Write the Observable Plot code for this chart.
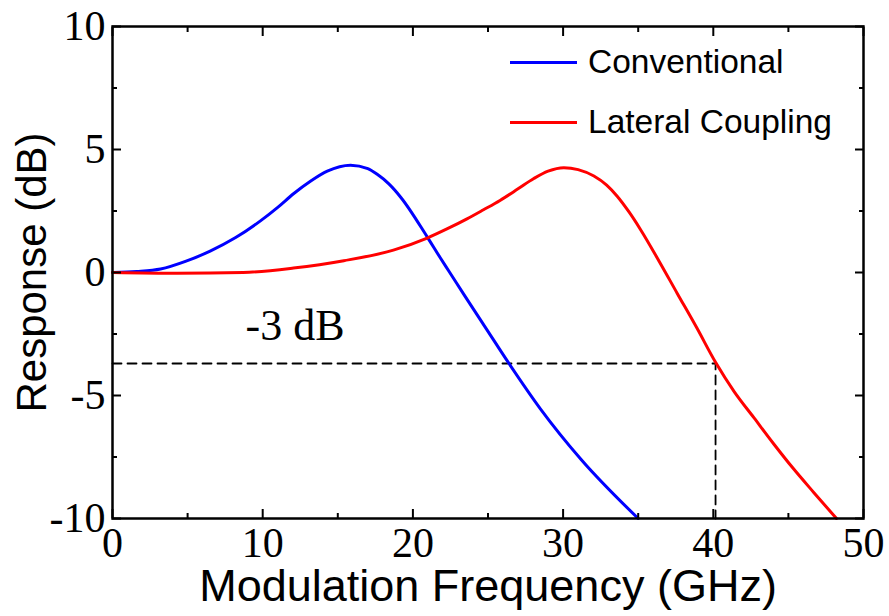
<!DOCTYPE html>
<html>
<head>
<meta charset="utf-8">
<script src="https://cdn.jsdelivr.net/npm/d3@7"></script>
<script src="https://cdn.jsdelivr.net/npm/@observablehq/plot@0.6"></script>
<style>
  body { margin: 0; background: #fff; }
  #wrap { position: relative; width: 889px; height: 616px; background: #fff; }
  .leg { position: absolute; left: 510px; display: flex; align-items: center; font-family: "Liberation Sans", Arial, sans-serif; font-size: 33.5px; color: #000; line-height: 1; white-space: nowrap; }
  .leg .sw { display: inline-block; width: 67px; height: 3px; margin-right: 11px; }
</style>
</head>
<body>
<div id="wrap"></div>
<script>
// ---- data ----
const seriesNames = ["Conventional", "Lateral Coupling"];

const conventionalFreq = [0, 1.6, 3.2, 4.9, 6.5, 8.2, 9.85, 11.0, 12.05, 13.2, 14.3, 15.85, 17.0, 17.6, 18.4, 19.2, 20.95, 21.8, 22.4, 23.4, 24.9, 26.4, 28.5, 31.2, 35.0];
const conventionalDb   = [0, 0.04, 0.14, 0.46, 0.87, 1.42, 2.1, 2.65, 3.2, 3.72, 4.12, 4.36, 4.22, 4.0, 3.6, 3.05, 1.45, 0.62, 0.05, -0.9, -2.3, -3.7, -5.55, -7.6, -10];

const lateralFreq = [0, 4.3, 8.7, 12.05, 15.4, 18.7, 20.95, 22.3, 23.6, 24.7, 25.8, 27.0, 28.05, 29.0, 30.05, 31.0, 32.05, 32.9, 33.6, 34.4, 35.15, 36.4, 37.6, 38.9, 40.15, 41.4, 42.7, 44.0, 45.3, 46.7, 48.2];
const lateralDb   = [0, -0.03, 0.0, 0.18, 0.48, 0.91, 1.4, 1.78, 2.18, 2.55, 2.93, 3.4, 3.82, 4.12, 4.26, 4.18, 3.92, 3.55, 3.1, 2.45, 1.75, 0.45, -0.85, -2.25, -3.65, -4.85, -5.9, -6.95, -7.95, -8.95, -10];

const cutoffFreq = [0, 40.15, 40.15];
const cutoffDb   = [-3.7, -3.7, -10];

const xTicks = [0, 10, 20, 30, 40, 50];
const xMinorTicks = [5, 15, 25, 35, 45];
const yTicks = [-10, -5, 0, 5, 10];
const yMinorTicks = [-7.5, -2.5, 2.5, 7.5];

const annotText = ["-3 dB"];
const annotFreq = [12.15];
const annotDb = [-2.17];

const xTitle = "Modulation Frequency (GHz)";
const yTitle = "Response (dB)";

// ---- build tables ----
const rows = [
  ...conventionalFreq.map((f, i) => ({series: seriesNames[0], f, db: conventionalDb[i]})),
  ...lateralFreq.map((f, i) => ({series: seriesNames[1], f, db: lateralDb[i]}))
];
const cutoff = cutoffFreq.map((f, i) => ({f, db: cutoffDb[i]}));
const annot = annotText.map((t, i) => ({t, f: annotFreq[i], db: annotDb[i]}));

const colors = ["#0000ff", "#ff0000"];
const serif = "'Liberation Serif', 'Times New Roman', serif";
const sans = "'Liberation Sans', Arial, sans-serif";
const fmt = d => String(d); // plain hyphen-minus, as in the reference

const tickOpts = {fill: "none", stroke: "black", strokeWidth: 2, label: null};

const chart = Plot.plot({
  width: 889,
  height: 616,
  marginLeft: 112,
  marginRight: 26,
  marginTop: 26,
  marginBottom: 98,
  style: {background: "white", color: "black", overflow: "visible"},
  x: {domain: [0, 50], label: null},
  y: {domain: [-10, 10], label: null},
  color: {domain: seriesNames, range: colors},
  marks: [
    Plot.line(cutoff, {x: "f", y: "db", stroke: "black", strokeWidth: 1.8, strokeDasharray: "9,6"}),
    Plot.line(rows, {x: "f", y: "db", z: "series", stroke: "series", strokeWidth: 3, curve: "monotone-x"}),
    Plot.text(annot, {x: "f", y: "db", text: "t", fontSize: 44, fontFamily: serif, fill: "black"}),
    Plot.frame({stroke: "black", strokeWidth: 2.5}),
    // tick labels
    Plot.axisX(xTicks, {tickSize: 0, tickPadding: 9, fontSize: 42, fontFamily: serif, label: null, fill: "black", tickFormat: fmt}),
    Plot.axisY(yTicks, {tickSize: 0, tickPadding: 7, fontSize: 42, fontFamily: serif, label: null, fill: "black", tickFormat: fmt}),
    // inward ticks on all four sides
    Plot.axisX(xTicks, {...tickOpts, anchor: "bottom", tickSize: -9}),
    Plot.axisX(xMinorTicks, {...tickOpts, anchor: "bottom", tickSize: -5}),
    Plot.axisX(xTicks, {...tickOpts, anchor: "top", tickSize: -9}),
    Plot.axisX(xMinorTicks, {...tickOpts, anchor: "top", tickSize: -5}),
    Plot.axisY(yTicks, {...tickOpts, anchor: "left", tickSize: -9}),
    Plot.axisY(yMinorTicks, {...tickOpts, anchor: "left", tickSize: -5}),
    Plot.axisY(yTicks, {...tickOpts, anchor: "right", tickSize: -9}),
    Plot.axisY(yMinorTicks, {...tickOpts, anchor: "right", tickSize: -5}),
    // axis titles
    Plot.text([xTitle], {frameAnchor: "bottom", dy: 82, fontSize: 45, fontFamily: sans, fill: "black", textAnchor: "middle", text: d => d}),
    Plot.text([yTitle], {frameAnchor: "left", dx: -80, rotate: -90, fontSize: 42, fontFamily: sans, fill: "black", textAnchor: "middle", text: d => d})
  ]
});

const wrap = document.getElementById("wrap");
wrap.appendChild(chart);

// legend (HTML overlay inside the plot frame)
const legendTops = [44, 104];
seriesNames.forEach((name, i) => {
  const div = document.createElement("div");
  div.className = "leg";
  div.style.top = legendTops[i] + "px";
  div.style.height = "36px";
  const sw = document.createElement("span");
  sw.className = "sw";
  sw.style.background = colors[i];
  const tx = document.createElement("span");
  tx.textContent = name;
  div.appendChild(sw);
  div.appendChild(tx);
  wrap.appendChild(div);
});
</script>
</body>
</html>
